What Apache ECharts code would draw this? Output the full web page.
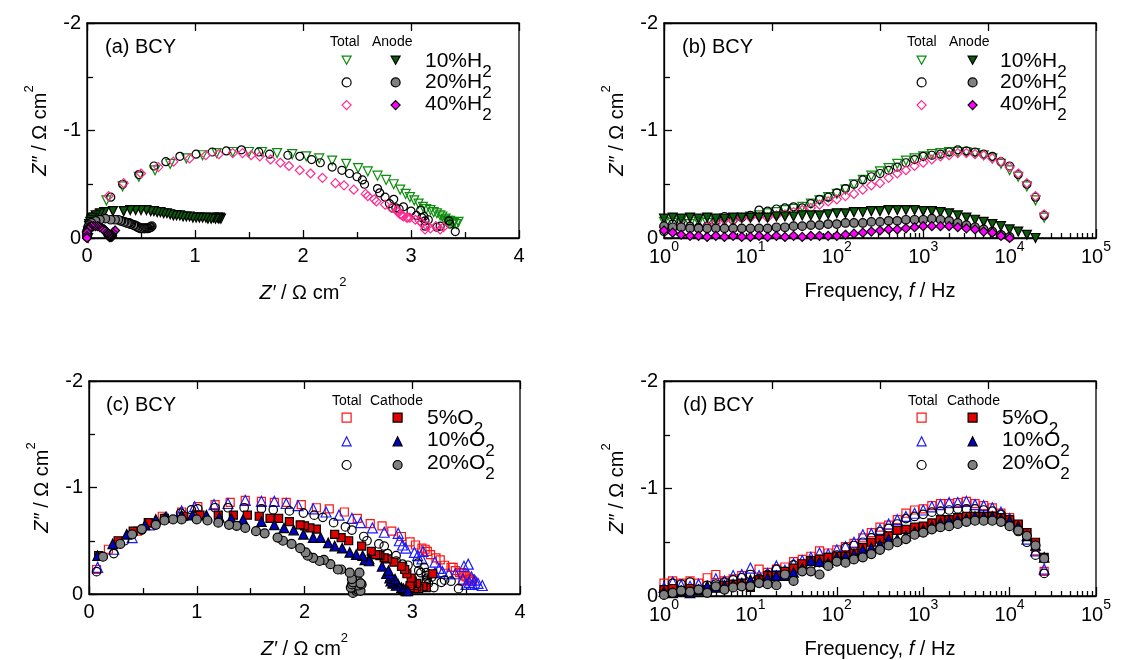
<!DOCTYPE html>
<html lang="en">
<head>
<meta charset="utf-8">
<title>BCY impedance spectra</title>
<script src="https://cdn.jsdelivr.net/npm/echarts@6/dist/echarts.min.js"></script>
<style>
  html, body { margin: 0; padding: 0; background: #fff; }
  #main { width: 1121px; height: 660px; }
</style>
</head>
<body>
<div id="main"></div>
<script>
// frequency points (Hz), shared by all spectra
var freq = [1,1.26,1.58,2,2.51,3.16,3.98,5.01,6.31,7.94,10,12.6,15.8,20,25.1,31.6,39.8,50.1,63.1,79.4,
  100,126,158,200,251,316,398,501,631,794,1000,1259,1585,1995,2512,3162,3981,5012,6310,7943,
  10000,12589,15849,19953,25119];

// --- hydrogen series, total cell (Z' , Z'')
var tot10H_re = [3.44,3.40,3.36,3.42,3.37,3.39,3.34,3.35,3.31,3.32,3.29,3.27,3.24,3.21,3.18,3.14,3.11,3.07,3.03,2.99,2.95,2.90,2.84,2.77,2.69,2.60,2.51,2.40,2.27,2.15,2.03,1.90,1.76,1.62,1.50,1.35,1.20,1.07,0.92,0.77,0.63,0.48,0.33,0.18,0.07];
var tot10H_im = [-0.15,-0.14,-0.16,-0.13,-0.15,-0.14,-0.16,-0.15,-0.17,-0.18,-0.20,-0.21,-0.23,-0.24,-0.26,-0.27,-0.29,-0.32,-0.35,-0.38,-0.41,-0.45,-0.50,-0.54,-0.58,-0.62,-0.65,-0.69,-0.72,-0.74,-0.76,-0.78,-0.79,-0.80,-0.80,-0.80,-0.79,-0.77,-0.74,-0.69,-0.63,-0.57,-0.48,-0.35,-0.19];
var tot20H_re = [3.41,3.36,3.35,3.27,3.24,3.13,3.13,3.12,3.16,3.10,3.05,3.09,3.00,2.89,2.83,2.93,2.86,2.80,2.84,2.76,2.71,2.69,2.57,2.55,2.50,2.43,2.36,2.27,2.16,2.08,1.97,1.86,1.69,1.59,1.43,1.29,1.16,1.01,0.86,0.73,0.62,0.48,0.33,0.22,0.10];
var tot20H_im = [-0.06,-0.13,-0.16,-0.11,-0.10,-0.11,-0.16,-0.20,-0.17,-0.19,-0.21,-0.26,-0.25,-0.27,-0.28,-0.29,-0.28,-0.32,-0.36,-0.38,-0.42,-0.46,-0.50,-0.54,-0.57,-0.60,-0.63,-0.66,-0.70,-0.73,-0.76,-0.77,-0.78,-0.80,-0.82,-0.81,-0.80,-0.78,-0.76,-0.71,-0.67,-0.59,-0.50,-0.38,-0.21];
var tot40H_re = [3.30,3.27,3.23,3.18,3.13,3.15,3.10,3.04,3.08,2.99,2.96,2.93,2.97,2.92,2.90,2.88,2.87,2.82,2.76,2.68,2.66,2.60,2.58,2.47,2.38,2.30,2.18,2.07,1.97,1.87,1.79,1.70,1.60,1.52,1.44,1.35,1.22,1.10,0.95,0.80,0.66,0.50,0.34,0.20,0.07];
var tot40H_im = [-0.10,-0.08,-0.11,-0.09,-0.08,-0.11,-0.14,-0.17,-0.16,-0.19,-0.19,-0.20,-0.19,-0.21,-0.22,-0.24,-0.26,-0.28,-0.31,-0.34,-0.36,-0.39,-0.41,-0.45,-0.49,-0.51,-0.56,-0.60,-0.63,-0.67,-0.70,-0.73,-0.76,-0.77,-0.79,-0.79,-0.78,-0.77,-0.74,-0.71,-0.66,-0.60,-0.51,-0.39,-0.22];

// --- hydrogen series, anode part
var ano10H_re = [1.24,1.23,1.22,1.21,1.19,1.17,1.15,1.12,1.10,1.07,1.04,1.01,0.98,0.95,0.92,0.89,0.86,0.83,0.80,0.77,0.74,0.71,0.68,0.65,0.62,0.59,0.55,0.50,0.45,0.40,0.34,0.24,0.16,0.12,0.08,0.05,0.04,0.03,0.02,0.02,0.02,0.01,0.01,0.01];
var ano10H_im = [-0.18,-0.19,-0.18,-0.19,-0.18,-0.19,-0.18,-0.18,-0.19,-0.19,-0.19,-0.19,-0.19,-0.20,-0.20,-0.20,-0.21,-0.21,-0.21,-0.22,-0.23,-0.23,-0.24,-0.24,-0.25,-0.25,-0.26,-0.26,-0.26,-0.26,-0.25,-0.25,-0.24,-0.23,-0.21,-0.19,-0.17,-0.15,-0.13,-0.11,-0.08,-0.06,-0.03,0.00];
var ano20H_re = [0.60,0.59,0.58,0.57,0.56,0.55,0.54,0.53,0.53,0.52,0.51,0.50,0.49,0.48,0.47,0.46,0.45,0.44,0.43,0.41,0.40,0.39,0.38,0.37,0.35,0.34,0.32,0.31,0.29,0.26,0.22,0.17,0.12,0.08,0.04,0.02,0.01,0.01,0.00,0.00,0.00];
var ano20H_im = [-0.11,-0.10,-0.10,-0.09,-0.09,-0.09,-0.09,-0.09,-0.09,-0.09,-0.09,-0.09,-0.09,-0.10,-0.10,-0.11,-0.11,-0.12,-0.12,-0.13,-0.13,-0.14,-0.14,-0.14,-0.15,-0.15,-0.16,-0.16,-0.17,-0.17,-0.17,-0.18,-0.17,-0.16,-0.14,-0.12,-0.10,-0.08,-0.06,-0.03,-0.01];
var ano40H_re = [0.26,0.24,0.23,0.23,0.22,0.23,0.22,0.22,0.23,0.22,0.22,0.22,0.21,0.22,0.21,0.21,0.21,0.21,0.21,0.20,0.20,0.20,0.19,0.19,0.18,0.17,0.16,0.15,0.14,0.12,0.10,0.08,0.06,0.04,0.02,0.01,0.01,0.00,0.00,0.00,0.00];
var ano40H_im = [-0.07,-0.05,-0.03,-0.02,-0.02,-0.01,-0.02,-0.01,-0.02,-0.01,-0.01,-0.02,-0.01,-0.02,-0.01,-0.02,-0.01,-0.02,-0.02,-0.02,-0.02,-0.03,-0.04,-0.05,-0.06,-0.07,-0.08,-0.08,-0.09,-0.10,-0.11,-0.11,-0.11,-0.11,-0.10,-0.09,-0.08,-0.06,-0.05,-0.02,0.00];

// --- oxygen series, total cell
var tot5O_re = [3.56,3.54,3.47,3.52,3.55,3.49,3.46,3.53,3.50,3.48,3.44,3.38,3.40,3.36,3.30,3.26,3.22,3.17,3.12,3.14,3.09,3.03,2.98,2.90,2.81,2.72,2.61,2.49,2.37,2.23,2.11,1.97,1.83,1.72,1.60,1.45,1.31,1.17,1.01,0.86,0.68,0.57,0.45,0.18,0.07];
var tot5O_im = [-0.12,-0.14,-0.12,-0.14,-0.12,-0.17,-0.20,-0.14,-0.16,-0.19,-0.20,-0.25,-0.22,-0.25,-0.27,-0.32,-0.34,-0.37,-0.42,-0.40,-0.43,-0.46,-0.49,-0.54,-0.59,-0.64,-0.66,-0.71,-0.77,-0.80,-0.81,-0.84,-0.86,-0.86,-0.87,-0.88,-0.86,-0.84,-0.82,-0.77,-0.73,-0.66,-0.59,-0.42,-0.23];
var tot10O_re = [3.65,3.58,3.61,3.56,3.53,3.50,3.55,3.47,3.40,3.21,3.48,3.34,3.28,3.52,3.25,3.21,3.09,3.05,3.10,3.02,2.94,2.91,2.88,2.87,2.74,2.63,2.52,2.44,2.32,2.20,2.08,1.94,1.83,1.72,1.60,1.45,1.29,1.16,0.98,0.86,0.72,0.56,0.40,0.23,0.08];
var tot10O_im = [-0.08,-0.13,-0.10,-0.09,-0.11,-0.09,-0.16,-0.14,-0.19,-0.20,-0.26,-0.19,-0.21,-0.28,-0.24,-0.30,-0.33,-0.36,-0.40,-0.39,-0.43,-0.46,-0.50,-0.57,-0.58,-0.62,-0.67,-0.71,-0.74,-0.77,-0.80,-0.83,-0.85,-0.87,-0.87,-0.88,-0.85,-0.84,-0.82,-0.78,-0.72,-0.65,-0.53,-0.42,-0.25];
var tot20O_re = [3.43,3.36,3.27,3.30,3.20,3.15,3.13,3.13,3.14,3.13,3.13,3.18,3.08,3.11,3.06,3.05,2.96,2.91,2.85,2.85,2.77,2.74,2.69,2.58,2.55,2.44,2.38,2.27,2.17,2.09,1.99,1.86,1.71,1.60,1.44,1.29,1.17,1.01,0.95,0.85,0.70,0.49,0.33,0.23,0.07];
var tot20O_im = [-0.05,-0.12,-0.11,-0.13,-0.06,-0.10,-0.11,-0.13,-0.15,-0.17,-0.20,-0.16,-0.20,-0.25,-0.22,-0.29,-0.27,-0.28,-0.31,-0.36,-0.38,-0.45,-0.47,-0.50,-0.54,-0.60,-0.63,-0.67,-0.72,-0.74,-0.76,-0.78,-0.79,-0.80,-0.81,-0.81,-0.81,-0.80,-0.79,-0.76,-0.71,-0.60,-0.50,-0.38,-0.21];

// --- oxygen series, cathode part
var cat5O_re = [3.13,3.10,3.06,3.04,3.02,2.98,3.02,3.04,3.00,3.00,2.98,2.99,2.95,3.19,2.93,2.90,2.83,2.77,2.74,2.70,2.68,2.66,2.62,2.53,2.41,2.34,2.28,2.11,2.05,2.00,1.96,1.86,1.76,1.68,1.58,1.47,1.34,1.20,1.03,0.88,0.70,0.55,0.41,0.27,0.09];
var cat5O_im = [-0.06,-0.07,-0.05,-0.07,-0.05,-0.06,-0.08,-0.10,-0.11,-0.12,-0.08,-0.15,-0.19,-0.19,-0.23,-0.26,-0.30,-0.33,-0.34,-0.36,-0.37,-0.37,-0.40,-0.45,-0.50,-0.53,-0.56,-0.61,-0.62,-0.64,-0.65,-0.68,-0.71,-0.71,-0.73,-0.74,-0.74,-0.74,-0.74,-0.73,-0.71,-0.67,-0.59,-0.50,-0.36];
var cat10O_re = [2.94,2.94,2.92,2.96,2.90,2.87,2.85,2.82,2.82,2.80,2.79,2.84,2.80,2.76,2.79,2.78,2.72,2.60,2.56,2.60,2.54,2.48,2.42,2.35,2.28,2.22,2.08,2.15,1.99,1.90,1.81,1.72,1.60,1.43,1.32,1.21,1.09,0.96,0.86,0.71,0.62,0.52,0.35,0.22,0.08];
var cat10O_im = [-0.04,-0.03,-0.05,-0.03,-0.06,-0.09,-0.08,-0.10,-0.11,-0.12,-0.15,-0.14,-0.17,-0.19,-0.19,-0.22,-0.26,-0.33,-0.32,-0.31,-0.36,-0.37,-0.39,-0.43,-0.45,-0.48,-0.53,-0.53,-0.56,-0.60,-0.62,-0.65,-0.68,-0.70,-0.71,-0.72,-0.74,-0.74,-0.74,-0.72,-0.70,-0.65,-0.56,-0.47,-0.36];
var cat20O_re = [2.45,2.48,2.47,2.50,2.44,2.52,2.46,2.43,2.50,2.44,2.53,2.50,2.45,2.52,2.51,2.44,2.34,2.31,2.42,2.24,2.18,2.14,2.08,2.03,2.01,1.96,1.88,1.80,1.75,1.63,1.55,1.45,1.37,1.30,1.20,1.10,1.00,0.86,0.78,0.70,0.62,0.49,0.40,0.29,0.13];
var cat20O_im = [-0.01,-0.03,-0.05,-0.04,-0.06,-0.03,-0.09,-0.06,-0.08,-0.09,-0.09,-0.12,-0.11,-0.10,-0.20,-0.14,-0.23,-0.23,-0.20,-0.28,-0.32,-0.31,-0.34,-0.36,-0.39,-0.43,-0.47,-0.50,-0.53,-0.57,-0.59,-0.62,-0.64,-0.65,-0.67,-0.69,-0.70,-0.70,-0.70,-0.69,-0.65,-0.61,-0.56,-0.47,-0.35];

var panelTitles = ['(a) BCY', '(b) BCY', '(c) BCY', '(d) BCY'];
var h2Labels = ['10%H', '20%H', '40%H'];
var o2Labels = ['5%O', '10%O', '20%O'];
var decades = [1, 10, 100, 1000, 10000, 100000];
var minorMult = [2, 3, 4, 5, 6, 7, 8, 9];

var FONT = 'Liberation Sans, Arial, sans-serif';
var DOWN_TRI = 'path://M0,0 L10,0 L5,9 Z';
var chart = echarts.init(document.getElementById('main'), null, {renderer: 'canvas'});

function zip(a, b) {
  return a.map(function (v, i) { return [v, b[i]]; });
}

var logMinor = [];
decades.slice(0, 5).forEach(function (d) {
  minorMult.forEach(function (m) { logMinor.push(d * m); });
});

var blackLine = {color: '#000', width: 1.3};

var nameRich = {
  i: {fontStyle: 'italic', fontSize: 20, fontFamily: FONT, color: '#000', lineHeight: 34},
  n: {fontSize: 20, fontFamily: FONT, color: '#000', lineHeight: 34},
  s: {fontSize: 13, fontFamily: FONT, color: '#000', lineHeight: 13, verticalAlign: 'top'}
};
var zReName = '{i|Z\u2032}{n| / \u03a9 cm}{s|2}';
var zImName = '{i|Z\u2033}{n| / \u03a9 cm}{s|2}';
var freqName = '{n|Frequency, }{i|f}{n| / Hz}';

function linBottom(gi) {
  return {
    type: 'value', gridIndex: gi, position: 'bottom', min: 0, max: 4, interval: 1,
    axisLine: {lineStyle: blackLine},
    axisTick: {inside: true, length: 8, lineStyle: blackLine},
    minorTick: {show: true, splitNumber: 2, length: 6, lineStyle: blackLine},
    splitLine: {show: false},
    axisLabel: {color: '#000', fontSize: 20, fontFamily: FONT, margin: 8},
    name: zReName, nameLocation: 'middle', nameGap: 38,
    nameTextStyle: {rich: nameRich}
  };
}

function linTop(gi) {
  return {
    type: 'value', gridIndex: gi, position: 'top', min: 0, max: 4, interval: 1,
    axisLine: {lineStyle: blackLine},
    axisTick: {inside: true, length: 8, lineStyle: blackLine},
    axisLabel: {show: false}, splitLine: {show: false}
  };
}

function logBottom(gi) {
  return {
    type: 'log', logBase: 10, gridIndex: gi, position: 'bottom', min: 1, max: 100000,
    axisLine: {lineStyle: blackLine},
    axisTick: {inside: true, length: 9, lineStyle: blackLine, customValues: decades},
    splitLine: {show: false},
    axisLabel: {
      customValues: decades, margin: 2,
      formatter: function (v) {
        return '{b|10}{s|' + Math.round(Math.log10(v)) + '}';
      },
      rich: {
        b: {fontSize: 20, fontFamily: FONT, color: '#000', lineHeight: 34},
        s: {fontSize: 14, fontFamily: FONT, color: '#000', lineHeight: 14, verticalAlign: 'top'}
      }
    },
    name: freqName, nameLocation: 'middle', nameGap: 36,
    nameTextStyle: {rich: nameRich}
  };
}

function logMinorAxis(gi) {
  return {
    type: 'log', logBase: 10, gridIndex: gi, position: 'bottom', min: 1, max: 100000,
    axisLine: {show: false},
    axisTick: {inside: true, length: 5, lineStyle: blackLine, customValues: logMinor},
    axisLabel: {show: false}, splitLine: {show: false}
  };
}

function yLeft(gi) {
  return {
    type: 'value', gridIndex: gi, min: -2, max: 0, interval: 1, inverse: true,
    axisLine: {lineStyle: blackLine},
    axisTick: {inside: true, length: 8, lineStyle: blackLine},
    minorTick: {show: true, splitNumber: 2, length: 6, lineStyle: blackLine},
    splitLine: {show: false},
    axisLabel: {color: '#000', fontSize: 20, fontFamily: FONT, margin: 6},
    name: zImName, nameLocation: 'middle', nameGap: 30, nameRotate: 90,
    nameTextStyle: {rich: nameRich}
  };
}

function sc(name, xi, yi, data, sym, size, rot, fill, stroke, z) {
  return {
    name: name, type: 'scatter', xAxisIndex: xi, yAxisIndex: yi, data: data,
    symbol: sym, symbolSize: size, symbolRotate: rot, clip: false, silent: true,
    itemStyle: {color: fill, borderColor: stroke, borderWidth: 1.2, opacity: 1},
    z: z
  };
}

var NONE = 'rgba(255,255,255,0)';
var C = {
  green: '#0c8c0c', dgreen: '#0a5e0a', pink: '#ff2b8f', magenta: '#ff00ff',
  gray: '#808080', red: '#ff1414', dred: '#e00000', blue: '#1a1aff', dblue: '#0000c8'
};

function hSeries(prefix, xi, yi, useFreq) {
  function pts(re, im) { return useFreq ? zip(freq, im) : zip(re, im); }
  return [
    sc(prefix + 'T10', xi, yi, pts(tot10H_re, tot10H_im), 'triangle', 9, 180, NONE, C.green, 2),
    sc(prefix + 'T20', xi, yi, pts(tot20H_re, tot20H_im), 'circle', 8, 0, NONE, '#000', 2),
    sc(prefix + 'T40', xi, yi, pts(tot40H_re, tot40H_im), 'diamond', 9, 0, NONE, C.pink, 2),
    sc(prefix + 'A10', xi, yi, pts(ano10H_re, ano10H_im), 'triangle', 9, 180, C.dgreen, '#000', 3),
    sc(prefix + 'A20', xi, yi, pts(ano20H_re, ano20H_im), 'circle', 8.5, 0, C.gray, '#000', 3),
    sc(prefix + 'A40', xi, yi, pts(ano40H_re, ano40H_im), 'diamond', 9, 0, C.magenta, '#000', 3)
  ];
}

function oSeries(prefix, xi, yi, useFreq) {
  function pts(re, im) { return useFreq ? zip(freq, im) : zip(re, im); }
  return [
    sc(prefix + 'T5', xi, yi, pts(tot5O_re, tot5O_im), 'rect', 8, 0, NONE, C.red, 2),
    sc(prefix + 'T10', xi, yi, pts(tot10O_re, tot10O_im), 'triangle', 10, 0, NONE, C.blue, 2),
    sc(prefix + 'T20', xi, yi, pts(tot20O_re, tot20O_im), 'circle', 8.5, 0, NONE, '#000', 2),
    sc(prefix + 'C5', xi, yi, pts(cat5O_re, cat5O_im), 'rect', 8, 0, C.dred, '#000', 3),
    sc(prefix + 'C10', xi, yi, pts(cat10O_re, cat10O_im), 'triangle', 9.5, 0, C.dblue, '#000', 3),
    sc(prefix + 'C20', xi, yi, pts(cat20O_re, cat20O_im), 'circle', 9, 0, C.gray, '#000', 3)
  ];
}

// legend icons only: one column of three markers, no text
function iconCol(names, cx, cy, step, flipFirst) {
  return {
    data: names.map(function (n, i) {
      return (flipFirst && i === 0) ? {name: n, icon: DOWN_TRI} : {name: n};
    }),
    orient: 'vertical', left: cx - 4.5, top: cy - 4.5, padding: 0,
    itemGap: step - 9, itemWidth: 9, itemHeight: 9, selectedMode: false,
    itemStyle: {borderWidth: 1.2},
    formatter: function () { return ''; },
    textStyle: {fontSize: 6, lineHeight: 6}
  };
}

var subRich = {
  t: {fontSize: 21, fontWeight: 'normal', fontFamily: FONT, color: '#000', lineHeight: 39},
  d: {fontSize: 17, fontWeight: 'normal', fontFamily: FONT, color: '#000', lineHeight: 17, verticalAlign: 'bottom'}
};

function txt(text, left, top, size) {
  return {
    text: text, left: left, top: top, padding: 0,
    textStyle: {fontSize: size, fontWeight: 'normal', fontFamily: FONT, color: '#000'}
  };
}

function gasLabel(label, left, cy) {
  return {
    text: '{t|' + label + '}{d|2}', left: left, top: cy - 19.5, padding: 0,
    textStyle: {fontWeight: 'normal', rich: subRich}
  };
}

var titles = [
  txt(panelTitles[0], 105, 37, 20), txt(panelTitles[1], 682, 37, 20),
  txt(panelTitles[2], 106, 395, 20), txt(panelTitles[3], 683, 395, 20),
  txt('Total', 330, 35, 14), txt('Anode', 372, 35, 14),
  txt('Total', 907, 35, 14), txt('Anode', 949, 35, 14),
  txt('Total', 332, 394, 14), txt('Cathode', 370, 394, 14),
  txt('Total', 908, 394, 14), txt('Cathode', 947, 394, 14)
];
var rowsTop = [60, 81.5, 103];
var rowsBot = [417, 439.5, 462];
[0, 1, 2].forEach(function (k) {
  titles.push(gasLabel(h2Labels[k], 425, rowsTop[k] + 1));
  titles.push(gasLabel(h2Labels[k], 1000, rowsTop[k] + 1));
  titles.push(gasLabel(o2Labels[k], 427, rowsBot[k] + 1));
  titles.push(gasLabel(o2Labels[k], 1002, rowsBot[k] + 1));
});

var option = {
  backgroundColor: '#fff',
  animation: false,
  grid: [
    {left: 87, top: 23, width: 432, height: 215, show: true, borderColor: '#000', borderWidth: 1.3, backgroundColor: 'transparent'},
    {left: 664, top: 23, width: 432, height: 215, show: true, borderColor: '#000', borderWidth: 1.3, backgroundColor: 'transparent'},
    {left: 89, top: 381, width: 431, height: 216, show: true, borderColor: '#000', borderWidth: 1.3, backgroundColor: 'transparent'},
    {left: 664, top: 381, width: 432, height: 216, show: true, borderColor: '#000', borderWidth: 1.3, backgroundColor: 'transparent'}
  ],
  xAxis: [
    linBottom(0), linTop(0),
    logBottom(1), logMinorAxis(1), linTop(1),
    linBottom(2), linTop(2),
    logBottom(3), logMinorAxis(3), linTop(3)
  ],
  yAxis: [yLeft(0), yLeft(1), yLeft(2), yLeft(3)],
  title: titles,
  legend: [
    iconCol(['aT10', 'aT20', 'aT40'], 346, 60, 21.5, true),
    iconCol(['aA10', 'aA20', 'aA40'], 395, 60, 21.5, true),
    iconCol(['bT10', 'bT20', 'bT40'], 921, 60, 21.5, true),
    iconCol(['bA10', 'bA20', 'bA40'], 972, 60, 21.5, true),
    iconCol(['cT5', 'cT10', 'cT20'], 346, 417, 22.5, false),
    iconCol(['cC5', 'cC10', 'cC20'], 397, 417, 22.5, false),
    iconCol(['dT5', 'dT10', 'dT20'], 921, 417, 22.5, false),
    iconCol(['dC5', 'dC10', 'dC20'], 972, 417, 22.5, false)
  ],
  series: [].concat(
    hSeries('a', 0, 0, false),
    hSeries('b', 2, 1, true),
    oSeries('c', 5, 2, false),
    oSeries('d', 7, 3, true)
  )
};

chart.setOption(option);
</script>
</body>
</html>
